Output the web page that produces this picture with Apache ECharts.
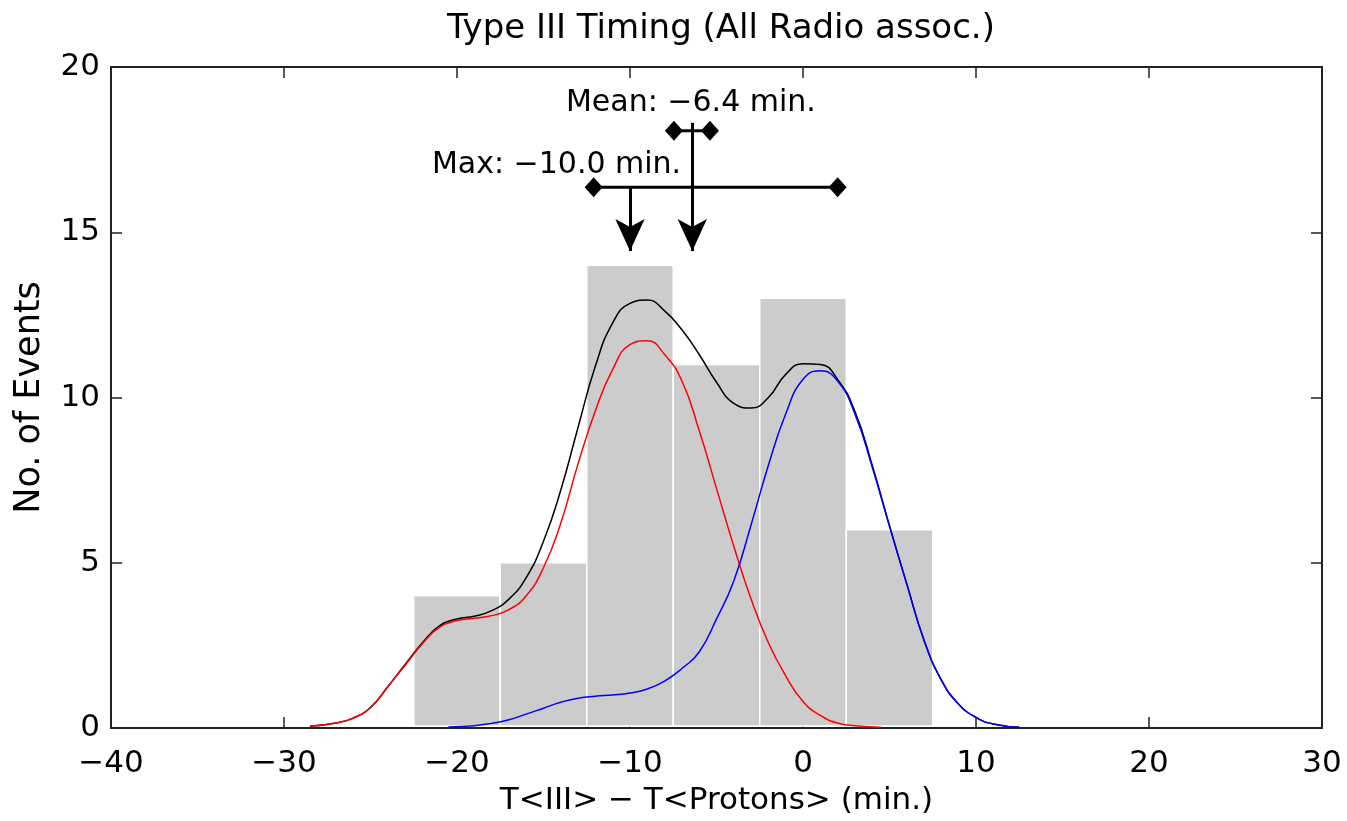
<!DOCTYPE html>
<html>
<head>
<meta charset="utf-8">
<script src="https://cdn.jsdelivr.net/npm/echarts@6/dist/echarts.min.js"></script>
<style>
  html, body { margin: 0; padding: 0; background: #fff; }
  #mychart { width: 1347px; height: 821px; }
</style>
</head>
<body>
<div id="mychart"></div>
<script>
"use strict";
// histogram bins (min.) and event counts
const binLeft = [-22.5, -17.5, -12.5, -7.5, -2.5, 2.5];
const binRight = [-17.5, -12.5, -7.5, -2.5, 2.5, 7.5];
const counts = [4, 5, 14, 11, 13, 6];

// fitted curves
const redX = [-28.5, -27, -26, -25, -24, -23, -22, -21, -20, -19, -18, -17, -16, -15, -14, -13, -12, -11, -10, -9, -8, -7, -6, -5, -4, -3, -2, -1, 0, 1, 2, 3, 4.5];
const redY = [0.05, 0.15, 0.3, 0.62, 1.25, 1.9, 2.55, 3.05, 3.25, 3.32, 3.4, 3.58, 4.0, 4.85, 6.2, 8.0, 9.6, 10.85, 11.6, 11.72, 11.3, 10.5, 9.0, 7.25, 5.5, 3.9, 2.58, 1.58, 0.8, 0.38, 0.15, 0.07, 0.02];
const blueX = [-20.5, -19, -18, -17, -16, -15, -14, -13, -12, -11, -10, -9, -8, -7, -6, -5, -4, -3, -2, -1, 0, 1, 2, 3, 4, 5, 6, 7, 8, 9, 10, 11, 12.5];
const blueY = [0.03, 0.07, 0.14, 0.25, 0.42, 0.6, 0.78, 0.9, 0.96, 1.0, 1.06, 1.18, 1.42, 1.8, 2.3, 3.3, 4.45, 6.15, 7.95, 9.5, 10.55, 10.81, 10.5, 9.5, 7.9, 6.1, 4.35, 2.65, 1.45, 0.72, 0.32, 0.12, 0.02];
const blackX = [-28.5, -27, -26, -25, -24, -23, -22, -21, -20, -19, -18, -17, -16, -15, -14, -13, -12, -11, -10, -9, -8, -7, -6, -5, -4, -3, -2, -1, 0, 1, 2, 3, 4, 5, 6, 7, 8, 9, 10, 11, 12.5];
const blackY = [0.05, 0.15, 0.3, 0.62, 1.25, 1.92, 2.58, 3.1, 3.3, 3.38, 3.55, 3.9, 4.55, 5.65, 7.2, 9.1, 10.95, 12.26, 12.85, 12.95, 12.62, 12.05, 11.3, 10.46, 9.82, 9.68, 10.0, 10.7, 11.02, 11.0, 10.55, 9.58, 7.95, 6.12, 4.36, 2.65, 1.45, 0.72, 0.32, 0.12, 0.02];

// annotations
const maxValue = -10.0;
const meanValue = -6.4;
const spreadBar = [-12.1, 2.0];      // horizontal bar with diamonds
const spreadBarY = 16.36;
const meanBar = [-7.46, -5.38];
const meanBarY = 18.07;
const meanLineTop = 18.31;
const arrowTipY = 14.43;
const meanLabel = 'Mean: \u22126.4 min.';
const maxLabel = 'Max: \u221210.0 min.';
const meanLabelPos = [-13.7, 18.91];
const maxLabelPos = [-21.45, 17.04];

const xTicks = { min: -40, max: 30, interval: 10 };
const yTicks = { min: 0, max: 20, interval: 5 };

const FONT = 'DejaVu Sans';

function zip(xs, ys) {
    return xs.map((x, i) => [x, ys[i]]);
}
function minusFmt(v) {
    return v < 0 ? '\u2212' + Math.abs(v) : '' + v;
}

const container = document.getElementById('mychart');
const myChart = echarts.init(container);

const axisLine = { show: true, onZero: false, lineStyle: { color: '#222', width: 2 } };
const axisTick = { show: true, inside: true, length: 11, lineStyle: { color: '#222', width: 1.5 } };

const arrowLine = (x, y0) => [
    { coord: [x, y0], symbol: 'none' },
    { coord: [x, arrowTipY], symbol: 'arrow' }
];

const curve = (name, xs, ys, color, z) => ({
    name, type: 'line', data: zip(xs, ys),
    smooth: 0.5, showSymbol: false,
    lineStyle: { color, width: 1.5 }, z
});

const option = {
    animation: false,
    title: {
        text: 'Type III Timing (All Radio assoc.)',
        left: 716,
        top: 7,
        textAlign: 'center',
        textStyle: { fontFamily: FONT, fontSize: 34, fontWeight: 'normal', color: '#000' }
    },
    grid: { left: 111, right: 25, top: 67, bottom: 91 },
    xAxis: [
        {
            type: 'value',
            min: xTicks.min, max: xTicks.max, interval: xTicks.interval,
            name: 'T<III> \u2212 T<Protons> (min.)',
            nameLocation: 'middle',
            nameGap: 57,
            nameTextStyle: { fontFamily: FONT, fontSize: 31, color: '#000', verticalAlign: 'top' },
            axisLine, axisTick,
            splitLine: { show: false },
            axisLabel: { fontFamily: FONT, fontSize: 31, color: '#000', margin: 20, formatter: minusFmt }
        },
        {
            type: 'value', position: 'top',
            min: xTicks.min, max: xTicks.max, interval: xTicks.interval,
            axisLine, axisTick,
            splitLine: { show: false },
            axisLabel: { show: false }
        }
    ],
    yAxis: [
        {
            type: 'value',
            min: yTicks.min, max: yTicks.max, interval: yTicks.interval,
            name: 'No. of Events',
            nameLocation: 'middle',
            nameGap: 81,
            nameTextStyle: { fontFamily: FONT, fontSize: 35, color: '#000', verticalAlign: 'middle' },
            axisLine, axisTick,
            splitLine: { show: false },
            axisLabel: { fontFamily: FONT, fontSize: 31, color: '#000', margin: 11 }
        },
        {
            type: 'value', position: 'right',
            min: yTicks.min, max: yTicks.max, interval: yTicks.interval,
            axisLine, axisTick,
            splitLine: { show: false },
            axisLabel: { show: false }
        }
    ],
    series: [
        {
            name: 'histogram',
            type: 'custom',
            data: binLeft.map((x0, i) => [x0, binRight[i], counts[i]]),
            encode: { x: [0, 1], y: 2 },
            renderItem: function (params, api) {
                const p0 = api.coord([api.value(0), api.value(2)]);
                const p1 = api.coord([api.value(1), 0]);
                return {
                    type: 'rect',
                    shape: { x: p0[0], y: p0[1], width: p1[0] - p0[0], height: p1[1] - p0[1] - 2 },
                    style: { fill: '#cccccc', stroke: '#ffffff', lineWidth: 1.5 }
                };
            },
            z: 1
        },
        curve('total', blackX, blackY, '#000000', 3),
        curve('early', redX, redY, '#ff0000', 4),
        curve('late', blueX, blueY, '#0000ff', 4),
        {
            name: 'spread', type: 'line',
            data: spreadBar.map(x => [x, spreadBarY]),
            symbol: 'diamond', symbolSize: [18, 20], showSymbol: true,
            itemStyle: { color: '#000' },
            lineStyle: { color: '#000', width: 3 },
            z: 5,
            markLine: {
                silent: true,
                symbolSize: [22, 32],
                label: { show: false },
                lineStyle: { color: '#000', width: 3, type: 'solid' },
                data: [arrowLine(maxValue, spreadBarY), arrowLine(meanValue, meanLineTop)]
            }
        },
        {
            name: 'meanbar', type: 'line',
            data: meanBar.map(x => [x, meanBarY]),
            symbol: 'diamond', symbolSize: [18, 20], showSymbol: true,
            itemStyle: { color: '#000' },
            lineStyle: { color: '#000', width: 3 },
            z: 5
        },
        {
            name: 'labels', type: 'scatter',
            symbolSize: 0,
            itemStyle: { color: '#000', opacity: 1 },
            data: [
                { value: meanLabelPos, label: { formatter: meanLabel } },
                { value: maxLabelPos, label: { formatter: maxLabel } }
            ],
            label: {
                show: true, position: 'right', distance: 0,
                fontFamily: FONT, fontSize: 30, color: '#000'
            },
            z: 6
        }
    ]
};
myChart.setOption(option);
</script>
</body>
</html>
